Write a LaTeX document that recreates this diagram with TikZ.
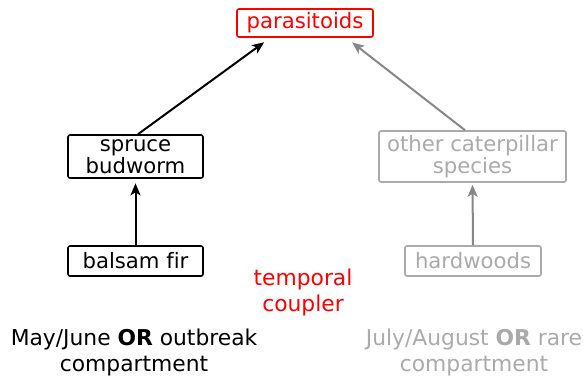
\documentclass[tikz,border=0pt]{standalone}
\usepackage{fontspec}
\setmainfont[Ligatures={NoCommon}]{DejaVu Sans}
\usetikzlibrary{arrows.meta}
\definecolor{lgray}{RGB}{170,170,170}
\definecolor{agray}{RGB}{135,135,135}
\begin{document}
\begin{tikzpicture}[x=1pt,y=-1pt,
  box/.style={draw, line width=1.6pt, rounded corners=2pt, inner sep=0pt, align=center,
    font=\fontsize{21.2}{19.5}\selectfont},
  lbl/.style={inner sep=0pt, align=center, font=\fontsize{21.8}{26}\selectfont},
  arr/.style={line width=2pt, -{Stealth[length=12pt,width=10pt,inset=3pt]}}]
\useasboundingbox (0,0) rectangle (583,381);
\node[box, draw=red, text=red, minimum width=136pt, minimum height=28pt] (para) at (305,23) {parasitoids};
\node[box, minimum width=135pt, minimum height=43pt] (spruce) at (135.5,156.5) {spruce\\budworm};
\node[box, minimum width=135pt, minimum height=30pt] (fir) at (135.5,261) {balsam fir};
\node[box, draw=lgray, text=lgray, minimum width=187pt, minimum height=51pt] (other) at (472.5,156.5) {other caterpillar\\species};
\node[box, draw=lgray, text=lgray, minimum width=136pt, minimum height=30pt] (hard) at (473,261) {hardwoods};
\node[lbl, text=red] (coupler) at (303,292) {temporal\\coupler};
\node[lbl] (may) at (134,352) {May/June \textbf{OR} outbreak\\compartment};
\node[lbl, text=lgray] (july) at (474,352) {July/August \textbf{OR} rare\\compartment};
\draw[arr] ([xshift=2.5pt]spruce.north) -- ([xshift=34pt]para.south west) [shorten >=7.5pt];
\draw[arr, draw=agray] ([xshift=-7.5pt]other.north) -- ([xshift=-27.6pt]para.south east) [shorten >=7.5pt];
\draw[arr, shorten >=4.5pt] (fir.north) -- (spruce.south);
\draw[arr, draw=agray, shorten >=2pt] (hard.north) -- (other.south);
\end{tikzpicture}
\end{document}
